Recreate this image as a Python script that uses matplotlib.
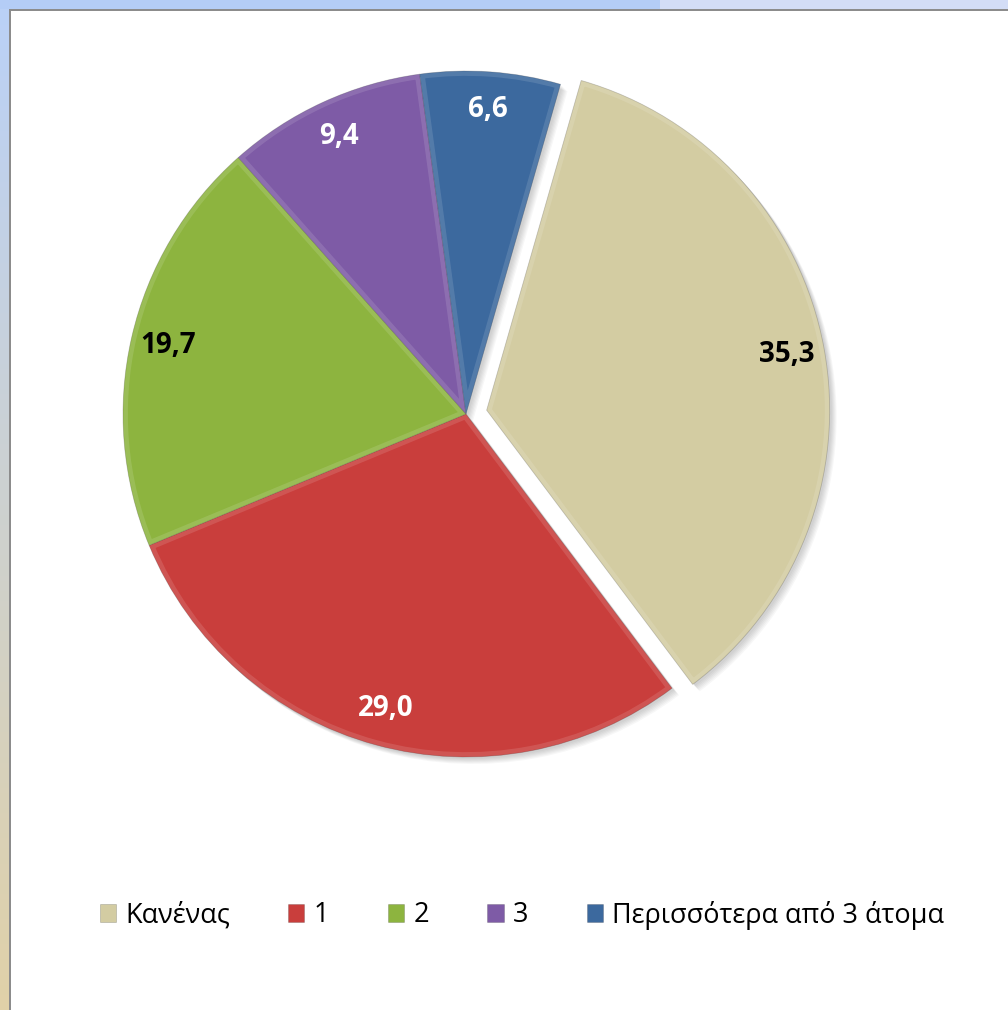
import numpy as np
import matplotlib
matplotlib.use("Agg")
import matplotlib.pyplot as plt
from matplotlib.patches import Rectangle, Wedge

# data
categories = ["Κανένας", "1", "2", "3", "Περισσότερα από 3 άτομα"]
values = [35.3, 29.0, 19.7, 9.4, 6.6]
colors = ["#D3CCA2", "#C93E3C", "#8DB43F", "#7E5BA6", "#3C699E"]
label_colors = ["black", "white", "black", "white", "white"]

W, H = 1008, 1010
fig = plt.figure(figsize=(W / 100, H / 100), dpi=100)
ax = fig.add_axes([0, 0, 1, 1])

# window-like frame: blue strip on top, blue->beige strip on the left
grad = np.linspace(0, 1, 200)[:, None]
top_c = np.array([0.73, 0.82, 0.97])
bot_c = np.array([0.88, 0.82, 0.66])
strip = (1 - grad)[..., None] * top_c + grad[..., None] * bot_c
ax.imshow(strip, extent=(0, 9, 0, H), aspect="auto", origin="upper", zorder=0)
ax.add_patch(Rectangle((0, H - 9), 660, 9, color="#B4CDF6", lw=0, zorder=0))
ax.add_patch(Rectangle((660, H - 9), W - 660, 9, color="#D3DDF6", lw=0, zorder=0))
ax.add_patch(Rectangle((9, 0), 2, H - 9, color="#8C8C8C", lw=0, zorder=1))
ax.add_patch(Rectangle((9, H - 11), W - 9, 2, color="#8C8C8C", lw=0, zorder=1))

cx, cy, r = 466, 596, 343
explode = [21, 0, 0, 0, 0]  # offset in pixels (data units)

wedges, texts, autotexts = ax.pie(
    values, colors=colors, explode=explode, startangle=74, counterclock=False,
    radius=r, center=(cx, cy), pctdistance=0.89,
    autopct=lambda p: f"{p:.1f}".replace(".", ","),
    wedgeprops=dict(linewidth=0.6, edgecolor="#00000030"), frame=True)
ax.set_xlim(0, W)
ax.set_ylim(0, H)
ax.set_aspect("equal")
ax.axis("off")

for w in wedges:
    w.set_zorder(2)
    (wx, wy), t1, t2 = w.center, w.theta1, w.theta2
    # soft drop shadow
    for k in range(6):
        ax.add_patch(Wedge((wx + 2 + k, wy - 2 - k), r, t1, t2, color="k",
                           alpha=0.03, lw=0, zorder=1))
    # subtle bevel-like rim
    hi = Wedge((wx, wy), r, t1, t2, facecolor="none", edgecolor="white",
               alpha=0.12, lw=7, zorder=2.5)
    ax.add_patch(hi)
    hi.set_clip_path(w)

for t, c in zip(autotexts, label_colors):
    t.set_color(c)
    t.set_fontsize(20)
    t.set_fontweight("bold")
    t.set_family(["Open Sans", "DejaVu Sans"])
    t.set_zorder(3)

leg = fig.legend(wedges, categories, loc="center", bbox_to_anchor=(522 / W, 1 - 915 / H),
                 ncol=5, frameon=False, handlelength=0.6, handleheight=0.6,
                 handletextpad=0.35, columnspacing=2.15,
                 prop={"family": ["Open Sans", "DejaVu Sans"], "size": 19.5})

fig.savefig("out.png", dpi=100)
